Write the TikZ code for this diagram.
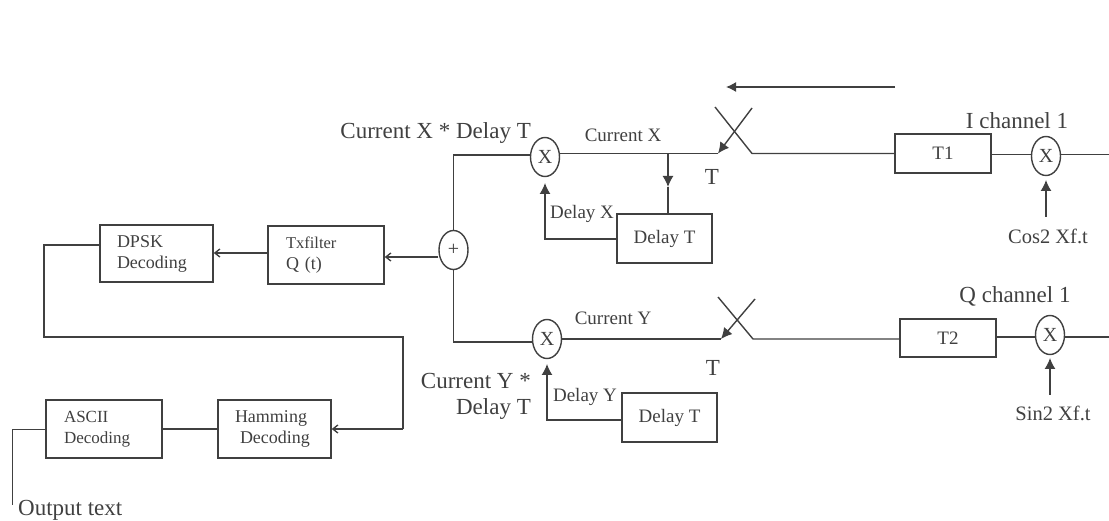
\documentclass[tikz,border=0pt]{standalone}
\usepackage{fontspec}
\setmainfont{Liberation Serif}
\usetikzlibrary{arrows.meta,shapes.geometric}
\definecolor{ink}{gray}{0.25}
\tikzset{
  x=1pt,y=-1pt,
  wire/.style={draw=ink,line width=1.4pt},
  bigarrow/.style={wire,-{Latex[length=11pt,width=11pt]}},
  smallarrow/.style={wire,-{Straight Barb[length=5pt,width=8pt]}},
  blockbox/.style={draw=ink,line width=1.5pt,rectangle,inner sep=0pt,text=ink,align=center,font=\fontsize{19}{21}\selectfont},
  leftbox/.style={blockbox,align=left,font=\fontsize{18}{21}\selectfont},
  mixer/.style={draw=ink,line width=1.4pt,ellipse,minimum width=29pt,minimum height=39pt,inner sep=0pt,text=ink,font=\fontsize{20}{20}\selectfont},
  biglabel/.style={text=ink,inner sep=0pt,font=\fontsize{23}{26}\selectfont},
  midlabel/.style={text=ink,inner sep=0pt,font=\fontsize{19}{20}\selectfont},
  sublabel/.style={text=ink,inner sep=0pt,font=\fontsize{20.5}{20}\selectfont},
}
\begin{document}
\begin{tikzpicture}
\useasboundingbox (0,0) rectangle (1109,521);
\clip (0,0) rectangle (1109,521);
% blocks
\node[leftbox,text width=113pt,minimum height=57pt] (dpsk) at (156.5,253.5) {\hspace*{17pt}DPSK\\\hspace*{17pt}Decoding};
\node[leftbox,text width=116pt,minimum height=58pt] (txf) at (326,255) {\hspace*{18pt}{\fontsize{16.5}{21}\selectfont Txfilter}\\\hspace*{18pt}Q (t)};
\node[leftbox,text width=113pt,minimum height=58pt] (ham) at (274.5,429) {\hspace*{17pt}Hamming\\\hspace*{22pt}Decoding};
\node[leftbox,text width=116pt,minimum height=58pt,font=\fontsize{17}{21}\selectfont] (asc) at (104,429) {\hspace*{18pt}ASCII\\\hspace*{18pt}Decoding};
\node[blockbox,minimum width=95pt,minimum height=49pt] (dtx) at (664.5,238.5) {Delay T};
\node[blockbox,minimum width=95pt,minimum height=49pt] (dty) at (669.5,417.5) {Delay T};
\node[blockbox,minimum width=96pt,minimum height=39pt] (t1) at (943,153.5) {T1};
\node[blockbox,minimum width=96pt,minimum height=38pt] (t2) at (948,338) {T2};
% mixers
\node[mixer] (plus) at (453.5,250) {+};
\node[mixer] (mx) at (545,157) {X};
\node[mixer] (my) at (547,339) {X};
\node[mixer] (m1) at (1046,156) {X};
\node[mixer] (m2) at (1050,335) {X};
% free ends
\coordinate (cornx) at (453.5,155);
\coordinate (corny) at (453.5,342);
\coordinate (swxa) at (718,153.5);
\coordinate (swxb) at (752,153.5);
\coordinate (swxc) at (715,107);
\coordinate (swxd) at (752,108);
\coordinate (swya) at (721,339);
\coordinate (swyb) at (753,339);
\coordinate (swyc) at (718,297);
\coordinate (swyd) at (755,299);
\coordinate (tapx) at (668,153.5);
\coordinate (tapm) at (668,187);
\coordinate (dxy) at (0,239);
\coordinate (dyy) at (0,420);
\coordinate (tipx) at (545,183);
\coordinate (tipy) at (547,364);
\coordinate (tip1) at (1046,180);
\coordinate (tip2) at (1050,358);
\coordinate (outy1) at (0,154.5);
\coordinate (outy2) at (0,337);
\coordinate (edge1) at (1109,154.5);
\coordinate (edge2) at (1109,337);
\coordinate (cos) at (1046,217);
\coordinate (sin) at (1050,395);
\coordinate (dirs) at (895,87);
\coordinate (dire) at (726,87);
\coordinate (filty) at (0,257);
\coordinate (dpy) at (0,253);
\coordinate (lpy) at (0,245);
\coordinate (loopa) at (44,245);
\coordinate (loopb) at (44,337);
\coordinate (loopc) at (403,337);
\coordinate (loopd) at (403,429);
\coordinate (outa) at (12,429);
\coordinate (outb) at (12,505);
% top branch
\draw[wire] (plus.north) -- (cornx) -- (cornx -| mx.west);
\draw[wire] (mx.east |- swxa) -- (swxa);
\draw[wire] (swxc) -- (swxb) -- (swxb -| t1.west);
\draw[bigarrow] (swxd) -- (swxa);
\draw[bigarrow] (tapx) -- (tapm);
\draw[wire] (tapm) -- (tapx |- dtx.north);
\draw[bigarrow] (dtx.west |- dxy) -- (tipx |- dxy) -- (tipx);
\draw[wire] (t1.east |- outy1) -- (m1.west |- outy1);
\draw[wire] (m1.east |- outy1) -- (edge1);
\draw[bigarrow] (cos) -- (tip1);
% bottom branch
\draw[wire] (plus.south) -- (corny) -- (corny -| my.west);
\draw[wire] (my.east) -- (swya);
\draw[wire] (swyc) -- (swyb) -- (swyb -| t2.west);
\draw[bigarrow] (swyd) -- (swya);
\draw[bigarrow] (dty.west |- dyy) -- (tipy |- dyy) -- (tipy);
\draw[wire] (t2.east |- outy2) -- (m2.west |- outy2);
\draw[wire] (m2.east |- outy2) -- (edge2);
\draw[bigarrow] (sin) -- (tip2);
% chain
\draw[smallarrow] (plus.west |- filty) -- (txf.east |- filty);
\draw[smallarrow] (txf.west |- dpy) -- (dpsk.east |- dpy);
\draw[wire] (dpsk.west |- lpy) -- (loopa) -- (loopb) -- (loopc) -- (loopd);
\draw[smallarrow] (loopd) -- (ham.east);
\draw[wire] (ham.west) -- (asc.east);
\draw[wire,line width=1pt] (asc.west) -- (outa) -- (outb);
\draw[bigarrow,-{Latex[length=10pt,width=10pt]}] (dirs) -- (dire);
% labels
\node[biglabel,anchor=east] (l1) at (531,133) {Current X * Delay T};
\node[midlabel] (l2) at (623,135) {Current X};
\node[midlabel] (l3) at (582,214) {Delay X};
\node[biglabel] (l4) at (712,177) {T};
\node[biglabel] (l5) at (1017,121) {I channel 1};
\node[sublabel] (l6) at (1048,236) {Cos2 Xf.t};
\node[midlabel] (l7) at (613,318) {Current Y};
\node[midlabel] (l8) at (585,397) {Delay Y};
\node[biglabel,align=right,anchor=east] (l9) at (531,396) {Current Y *\\Delay T};
\node[biglabel] (l10) at (713,368) {T};
\node[biglabel] (l11) at (1015,296) {Q channel 1};
\node[sublabel] (l12) at (1053,413) {Sin2 Xf.t};
\node[biglabel,anchor=west] (l13) at (18,510) {Output text};
\end{tikzpicture}
\end{document}
